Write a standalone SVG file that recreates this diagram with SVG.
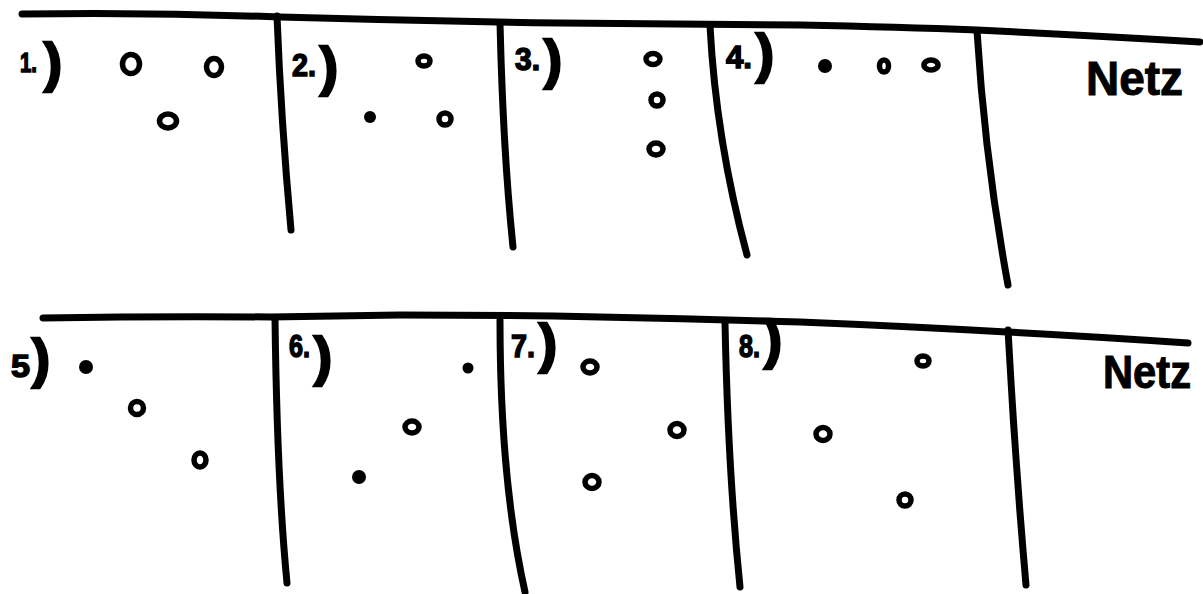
<svg xmlns="http://www.w3.org/2000/svg" width="1203" height="594" viewBox="0 0 1203 594">
<style>
.ln{fill:none;stroke:#000;stroke-width:7;stroke-linecap:round;stroke-linejoin:round}
.r{fill:#fff;stroke:#000;stroke-width:5.5}
.d{fill:#000}
.lb{font-family:"Liberation Sans",Arial,sans-serif;font-weight:bold;font-size:32px;fill:#000;stroke:#000;stroke-width:1.5}
.p{font-family:"Liberation Sans",Arial,sans-serif;font-weight:bold;font-size:54px;fill:#000;stroke:#000;stroke-width:2.5}
.nz{font-family:"Liberation Sans",Arial,sans-serif;font-weight:bold;fill:#000;stroke:#000;stroke-width:1}
</style>
<rect width="1203" height="594" fill="#fff"/>
<g id="lines">
<path class="ln" d="M22,14 Q150,12 280,17 Q420,21 560,23 Q700,24 800,25 Q900,27 977,30 Q1100,36 1200,42"/>
<path class="ln" d="M277,16 Q281,120 291,230"/>
<path class="ln" d="M500,23 Q503,150 513,247"/>
<path class="ln" d="M710,26 Q716,140 747,255"/>
<path class="ln" d="M977,31 Q985,160 1008,285"/>
<path class="ln" d="M43,318 Q160,316 270,317 Q340,316 400,315 Q500,315 600,317 Q700,319 800,322 Q900,326 1007,332 Q1100,337 1188,343"/>
<path class="ln" d="M275,318 Q277,480 287,583"/>
<path class="ln" d="M500,320 Q500,480 525,592"/>
<path class="ln" d="M725,323 Q728,470 740,587"/>
<path class="ln" d="M1008,330 Q1015,460 1026,585"/>
</g>
<g id="panel1">
<text class="lb" x="20" y="72" style="font-size:27px" textLength="17" lengthAdjust="spacingAndGlyphs">1.</text>
<text class="p" x="44" y="81">)</text>
<ellipse class="r" cx="131" cy="64" rx="8.5" ry="9.5"/>
<ellipse class="r" cx="214" cy="67" rx="7.5" ry="8.5"/>
<ellipse class="r" cx="168" cy="121" rx="8.5" ry="7"/>
</g>
<g id="panel2">
<text class="lb" x="292" y="76" textLength="24" lengthAdjust="spacingAndGlyphs">2.</text>
<text class="p" x="320" y="85">)</text>
<ellipse class="r" cx="424" cy="61" rx="6" ry="5"/>
<circle class="d" cx="370" cy="117" r="6"/>
<ellipse class="r" cx="445" cy="119" rx="6" ry="6"/>
</g>
<g id="panel3">
<text class="lb" x="515" y="70" textLength="25" lengthAdjust="spacingAndGlyphs">3.</text>
<text class="p" x="544" y="78">)</text>
<ellipse class="r" cx="653" cy="59" rx="7" ry="5.5"/>
<ellipse class="r" cx="657" cy="100" rx="6" ry="6"/>
<ellipse class="r" cx="656" cy="149" rx="7" ry="6"/>
</g>
<g id="panel4">
<text class="lb" x="726" y="68" textLength="26" lengthAdjust="spacingAndGlyphs">4.</text>
<text class="p" x="756" y="72">)</text>
<circle class="d" cx="825" cy="66" r="7"/>
<ellipse class="r" cx="884" cy="66" rx="4.5" ry="6"/>
<ellipse class="r" cx="931" cy="65" rx="7" ry="5"/>
</g>
<g id="netz-top">
<text class="nz" x="1086" y="95" font-size="48" textLength="97" lengthAdjust="spacingAndGlyphs">Netz</text>
</g>
<g id="panel5">
<text class="lb" x="11" y="377" textLength="19" lengthAdjust="spacingAndGlyphs">5</text>
<text class="p" x="32" y="377">)</text>
<circle class="d" cx="86" cy="367" r="7"/>
<ellipse class="r" cx="137" cy="408" rx="6.5" ry="6.5"/>
<ellipse class="r" cx="200" cy="460" rx="6" ry="7"/>
</g>
<g id="panel6">
<text class="lb" x="289" y="357" textLength="21" lengthAdjust="spacingAndGlyphs">6.</text>
<text class="p" x="314" y="375">)</text>
<circle class="d" cx="468" cy="368" r="5.5"/>
<ellipse class="r" cx="412" cy="427" rx="7" ry="6"/>
<circle class="d" cx="359" cy="477" r="7"/>
</g>
<g id="panel7">
<text class="lb" x="511" y="357" textLength="24" lengthAdjust="spacingAndGlyphs">7.</text>
<text class="p" x="539" y="362">)</text>
<ellipse class="r" cx="590" cy="367" rx="7" ry="6"/>
<ellipse class="r" cx="677" cy="430" rx="7" ry="6.5"/>
<ellipse class="r" cx="592" cy="482" rx="7" ry="6.5"/>
</g>
<g id="panel8">
<text class="lb" x="739" y="357" textLength="21" lengthAdjust="spacingAndGlyphs">8.</text>
<text class="p" x="764" y="358">)</text>
<ellipse class="r" cx="923" cy="361" rx="6" ry="5"/>
<ellipse class="r" cx="823" cy="434" rx="7" ry="6.5"/>
<ellipse class="r" cx="905" cy="500" rx="6" ry="6"/>
</g>
<g id="netz-bottom">
<text class="nz" x="1103" y="388" font-size="46" textLength="88" lengthAdjust="spacingAndGlyphs">Netz</text>
</g>
</svg>
